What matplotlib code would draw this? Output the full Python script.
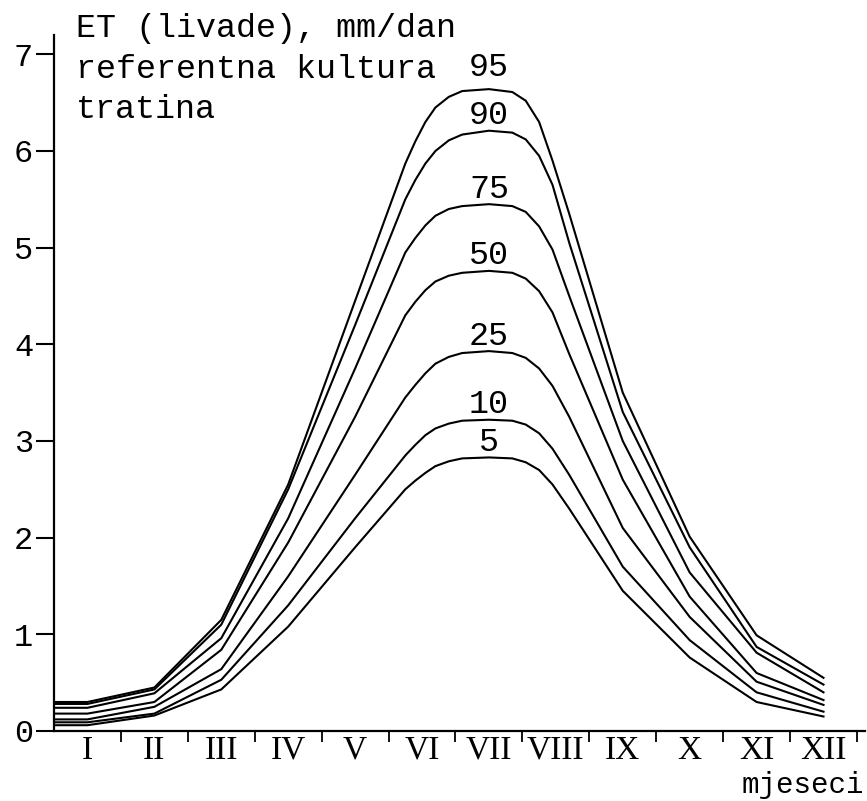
import matplotlib.pyplot as plt

## ET (livade) percentile curves, mm/dan
months = ['I', 'II', 'III', 'IV', 'V', 'VI', 'VII', 'VIII', 'IX', 'X', 'XI', 'XII']
month_pos = list(range(1, 13))
x_pts = [0.5, 1, 2, 3, 4, 5, 5.75, 5.9, 6.05, 6.2, 6.4, 6.6, 7,
         7.35, 7.55, 7.75, 7.95, 8.2, 9, 10, 11, 12]

et_95 = [0.30, 0.30, 0.45, 1.15, 2.55, 4.45, 5.87, 6.10, 6.30, 6.45, 6.56, 6.62, 6.64,
         6.61, 6.52, 6.30, 5.90, 5.35, 3.50, 2.01, 0.99, 0.55]
et_90 = [0.28, 0.28, 0.43, 1.10, 2.50, 4.20, 5.50, 5.70, 5.87, 6.00, 6.11, 6.17, 6.21,
         6.19, 6.12, 5.95, 5.65, 5.05, 3.30, 1.90, 0.87, 0.48]
et_75 = [0.24, 0.24, 0.39, 0.96, 2.20, 3.75, 4.95, 5.10, 5.23, 5.33, 5.40, 5.43, 5.45,
         5.43, 5.37, 5.22, 4.98, 4.50, 3.00, 1.64, 0.81, 0.40]
et_50 = [0.18, 0.18, 0.30, 0.84, 1.95, 3.25, 4.30, 4.44, 4.56, 4.65, 4.71, 4.74, 4.76,
         4.74, 4.68, 4.55, 4.33, 3.90, 2.60, 1.39, 0.60, 0.32]
et_25 = [0.12, 0.12, 0.25, 0.64, 1.60, 2.65, 3.45, 3.58, 3.70, 3.80, 3.87, 3.91, 3.93,
         3.91, 3.86, 3.75, 3.57, 3.25, 2.10, 1.18, 0.51, 0.27]
et_10 = [0.09, 0.09, 0.18, 0.53, 1.30, 2.20, 2.85, 2.96, 3.06, 3.13, 3.18, 3.21, 3.22,
         3.21, 3.17, 3.08, 2.92, 2.65, 1.70, 0.94, 0.40, 0.20]
et_5 = [0.06, 0.06, 0.16, 0.43, 1.08, 1.90, 2.50, 2.59, 2.67, 2.74, 2.79, 2.82, 2.83,
        2.82, 2.78, 2.70, 2.55, 2.30, 1.45, 0.76, 0.30, 0.15]

curves = {'95': et_95, '90': et_90, '75': et_75, '50': et_50,
          '25': et_25, '10': et_10, '5': et_5}
label_x = 7.0

W, H = 867, 801
txt_font = 'Liberation Mono'
fig = plt.figure(figsize=(W / 100, H / 100), dpi=100)
ax = fig.add_axes([54 / W, 70 / H, (865 - 54) / W, (731 - 35) / H])

for name, vals in curves.items():
    ax.plot(x_pts, vals, color='black', lw=1.5, solid_joinstyle='round')
    off = 22 if name == '95' else 15
    ax.annotate(name, (label_x, max(vals)), xytext=(0, off * 0.72),
                textcoords='offset points', ha='center', va='center',
                fontsize=24, family=txt_font)

ax.set_xlim(0.5, 12.62)
ax.set_ylim(0, 7.2)

for s in ['top', 'right']:
    ax.spines[s].set_visible(False)
for s in ['left', 'bottom']:
    ax.spines[s].set_linewidth(1.6)

ax.set_yticks(range(0, 8))
ax.tick_params(axis='y', direction='out', length=13, width=1.5, labelsize=23, pad=2)
for lab in ax.get_yticklabels():
    lab.set_family(txt_font)

# tick marks at month boundaries, labels at month centres
ax.set_xticks([m + 0.5 for m in month_pos])
ax.set_xticklabels([])
ax.tick_params(axis='x', which='major', direction='out', length=8, width=1.3)
ax.set_xticks(month_pos, minor=True)
ax.set_xticklabels(months, minor=True, fontsize=24, family='Liberation Serif')
ax.tick_params(axis='x', which='minor', length=0, pad=3)

fig.text(76 / W, 1 - 28 / H, 'ET (livade), mm/dan', fontsize=24,
         family=txt_font, va='center', ha='left')
fig.text(76 / W, 1 - 70 / H, 'referentna kultura', fontsize=24,
         family=txt_font, va='center', ha='left')
fig.text(76 / W, 1 - 110 / H, 'tratina', fontsize=24,
         family=txt_font, va='center', ha='left')
fig.text(864 / W, 2 / H, 'mjeseci', fontsize=21,
         family=txt_font, va='bottom', ha='right')

fig.savefig('out.png', dpi=100)
